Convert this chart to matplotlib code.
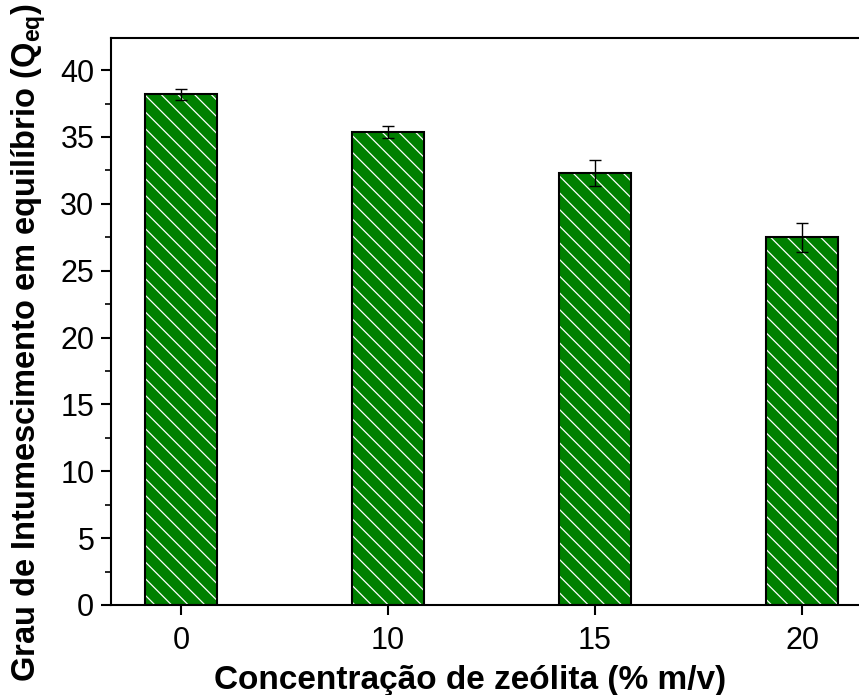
import matplotlib
matplotlib.use("Agg")
import matplotlib.pyplot as plt
from matplotlib.ticker import MultipleLocator

plt.rcParams['font.family'] = ['Liberation Sans', 'DejaVu Sans']
plt.rcParams['mathtext.fontset'] = 'custom'
plt.rcParams['mathtext.rm'] = 'Liberation Sans'
plt.rcParams['mathtext.bf'] = 'Liberation Sans:bold'
plt.rcParams['hatch.linewidth'] = 0.9

categories = ["0", "10", "15", "20"]
values = [38.2, 35.4, 32.3, 27.5]
errors = [0.4, 0.45, 1.0, 1.1]

fig = plt.figure(figsize=(8.59, 6.95), dpi=100)
ax = fig.add_axes([111/859, 1-605/695, 1-111/859, (605-38)/695])

x = list(range(len(categories)))
green = '#008000'
ax.bar(x, values, width=0.35, color=green, edgecolor='white', hatch='\\\\', linewidth=0, zorder=2)
ax.bar(x, values, width=0.35, facecolor='none', edgecolor='black', linewidth=1.5, zorder=3)
ax.errorbar(x, values, yerr=errors, fmt='none', ecolor='black', elinewidth=1.0,
            capsize=4, capthick=1.0, zorder=4)

ax.set_xlim(-0.338, 3.275)
ax.set_ylim(0, 42.4)
ax.set_xticks(x)
ax.set_xticklabels(categories)
ax.yaxis.set_major_locator(MultipleLocator(5))
ax.yaxis.set_minor_locator(MultipleLocator(2.5))

for s in ['left', 'bottom', 'top']:
    ax.spines[s].set_linewidth(1.5)
ax.spines['right'].set_visible(False)

ax.tick_params(axis='both', which='major', direction='out', length=7, width=1.5,
               labelsize=22, pad=5)
ax.tick_params(axis='x', which='major', pad=8)
ax.tick_params(axis='y', which='minor', direction='out', length=4, width=1.2)

fig.text(470/859, 1-689/695, 'Concentração de zeólita (% m/v)', fontsize=24,
         fontweight='bold', ha='center', va='baseline')
ax.set_ylabel(r'Grau de Intumescimento em equilíbrio (Q$_{\mathbf{eq}}$)', fontsize=23.5,
              fontweight='bold', labelpad=9)
ax.yaxis.label.set_y((605-342)/567)

fig.savefig('out.png', dpi=100)
